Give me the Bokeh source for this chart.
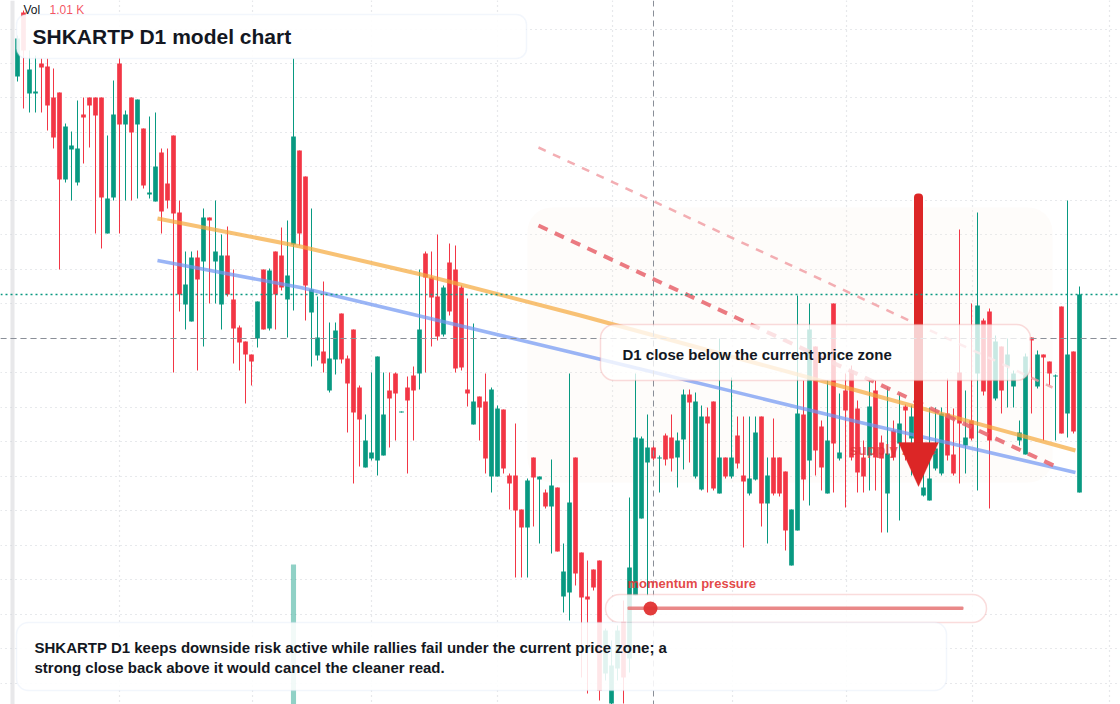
import numpy as np
from bokeh.plotting import figure
from bokeh.models import (Range1d, BoxAnnotation, PolyAnnotation, Label, Span,
                          ColumnDataSource)
from bokeh.embed import file_html
from bokeh.resources import INLINE

# ---------------- data (daily candles, price units) ----------------
opens = [9.24, 9.88, 9.07, 9.07, 9.37, 9.34, 9.03, 9.08, 8.21, 8.51,
         8.18, 8.86, 9.03, 9.03, 9.03, 7.67, 8.03, 9.37, 8.76, 9.03,
         8.76, 8.72, 8.06, 7.99, 8.48, 8.17, 8.65, 7.88, 6.96, 6.79,
         7.43, 7.39, 7.83, 7.39, 6.96, 7.45, 7.01, 6.73, 6.59, 6.46,
         6.62, 7.31, 6.72, 7.49, 7.45, 7.01, 7.56, 8.50, 8.24, 6.88,
         6.45, 6.49, 6.10, 6.41, 6.87, 6.42, 6.71, 6.13, 5.33, 5.42,
         5.40, 5.45, 6.10, 6.27, 5.88, 6.13, 6.25, 6.27, 7.47, 7.23,
         7.04, 6.66, 7.38, 7.31, 7.13, 6.11, 5.76, 6.04, 5.99, 5.24,
         5.24, 5.91, 5.25, 5.25, 4.91, 4.73, 5.43, 5.21, 5.08, 4.94,
         5.13, 4.04, 4.08, 5.43, 4.48, 4.04, 4.31, 4.40, 3.27, 2.97,
         3.32, 3.79, 3.42, 4.05, 4.82, 5.38, 5.53, 5.42, 5.65, 5.63,
         5.43, 5.61, 6.06, 5.24, 5.11, 5.84, 5.99, 5.07, 5.43, 5.24,
         5.65, 5.25, 5.07, 5.21, 5.84, 4.97, 5.43, 5.43, 5.29, 4.35,
         4.70, 5.86, 5.40, 6.54, 5.74, 5.07, 6.97, 5.42, 6.10, 6.30,
         5.92, 5.43, 5.45, 6.10, 5.58, 5.07, 5.70, 5.57, 5.94, 5.62,
         5.80, 5.05, 5.00, 5.32, 5.27, 5.87, 5.46, 6.28, 5.55, 5.80,
         6.27, 6.80, 6.89, 6.02, 6.54, 6.34, 6.14, 5.60, 5.46, 6.63,
         6.14, 6.46, 6.39, 6.24, 6.94, 5.87, 6.49, 5.08]
highs = [9.65, 9.90, 9.50, 9.45, 9.42, 9.42, 9.32, 9.08, 8.77, 8.69,
         9.00, 9.03, 9.03, 9.03, 9.03, 8.65, 9.20, 9.43, 8.90, 9.03,
         9.01, 8.72, 8.84, 8.88, 8.52, 8.52, 8.65, 8.00, 7.49, 7.49,
         7.50, 7.92, 7.83, 8.00, 7.66, 7.74, 7.31, 6.75, 6.59, 6.46,
         6.99, 7.31, 7.32, 7.49, 7.73, 7.80, 9.42, 8.50, 8.24, 7.92,
         7.04, 7.19, 6.78, 6.78, 6.87, 6.45, 6.71, 6.15, 5.86, 6.28,
         6.44, 6.28, 6.28, 6.28, 5.89, 6.24, 6.34, 7.31, 7.49, 7.49,
         7.66, 7.15, 7.57, 7.55, 7.15, 7.02, 6.77, 6.04, 6.27, 6.13,
         5.95, 5.91, 5.27, 5.77, 4.91, 5.22, 5.43, 5.24, 5.11, 5.41,
         5.13, 4.57, 6.27, 5.43, 4.48, 4.40, 4.31, 4.40, 3.72, 3.60,
         3.75, 4.00, 5.03, 6.27, 5.64, 5.86, 5.55, 5.45, 5.67, 5.86,
         5.68, 6.11, 6.11, 6.08, 5.95, 5.93, 5.99, 6.62, 5.43, 6.23,
         5.84, 5.84, 5.84, 5.84, 5.84, 5.43, 5.82, 5.43, 5.29, 4.91,
         7.05, 6.20, 6.97, 6.54, 5.80, 6.20, 6.97, 6.07, 6.27, 6.35,
         6.00, 5.60, 6.20, 6.20, 5.65, 6.13, 5.80, 6.07, 5.96, 5.95,
         5.90, 5.30, 5.93, 5.93, 5.93, 6.22, 5.92, 7.71, 6.10, 6.97,
         7.88, 6.82, 6.92, 6.65, 6.54, 6.62, 6.30, 5.80, 6.47, 6.63,
         6.50, 6.46, 6.39, 6.26, 6.94, 8.00, 6.49, 7.14]
lows = [9.19, 8.92, 8.88, 8.88, 8.88, 8.70, 8.52, 7.31, 8.18, 8.00,
        8.15, 8.37, 8.53, 7.67, 7.52, 7.67, 8.00, 7.67, 8.00, 8.00,
        8.02, 8.12, 8.02, 7.99, 7.67, 7.92, 6.28, 6.89, 6.71, 6.79,
        6.30, 6.54, 6.97, 6.97, 6.71, 7.04, 6.37, 6.30, 5.97, 6.15,
        6.53, 6.71, 6.70, 6.71, 7.10, 6.63, 6.90, 7.55, 6.80, 6.34,
        6.40, 6.28, 6.08, 6.26, 6.37, 5.68, 5.17, 5.34, 5.33, 5.40,
        5.25, 5.45, 5.53, 5.60, 5.88, 5.27, 5.60, 6.11, 6.28, 6.54,
        6.60, 6.64, 6.85, 6.28, 6.30, 5.94, 5.76, 5.60, 5.27, 5.08,
        5.24, 5.27, 4.91, 4.23, 4.23, 4.23, 4.74, 4.57, 4.92, 4.47,
        4.49, 3.88, 3.80, 4.15, 3.23, 3.07, 4.10, 3.00, 3.20, 2.96,
        3.20, 2.97, 3.28, 4.05, 4.82, 4.05, 5.40, 5.08, 5.35, 5.29,
        5.13, 5.31, 5.38, 5.22, 5.10, 5.08, 5.10, 5.07, 5.22, 5.22,
        5.32, 4.53, 5.05, 5.20, 4.74, 4.57, 5.05, 5.04, 4.50, 4.35,
        4.70, 5.00, 4.95, 5.25, 5.10, 5.07, 5.08, 5.40, 4.93, 5.40,
        5.08, 5.08, 5.10, 5.10, 4.68, 4.68, 5.40, 4.80, 5.40, 5.25,
        5.40, 5.04, 5.00, 5.30, 5.25, 5.40, 5.25, 5.17, 5.27, 5.60,
        5.10, 6.05, 4.92, 6.00, 5.87, 5.93, 5.93, 5.55, 5.46, 5.87,
        6.12, 5.60, 6.15, 5.60, 5.67, 5.63, 5.67, 5.08]
closes = [9.62, 9.50, 9.31, 9.09, 9.33, 8.95, 8.63, 8.21, 8.74, 8.55,
          8.52, 8.83, 8.95, 8.85, 8.03, 8.02, 8.86, 8.76, 8.86, 8.68,
          9.01, 8.15, 8.08, 8.34, 7.89, 8.00, 7.87, 7.06, 7.16, 7.43,
          7.21, 7.83, 7.80, 7.49, 7.45, 7.06, 6.72, 6.58, 6.46, 6.39,
          6.99, 6.71, 7.30, 7.06, 7.13, 7.25, 8.64, 7.67, 7.15, 7.11,
          6.63, 6.37, 6.42, 6.70, 6.41, 6.17, 5.88, 5.81, 5.60, 5.48,
          6.44, 5.86, 6.02, 6.07, 5.89, 6.00, 6.10, 6.71, 7.23, 7.03,
          6.64, 7.13, 6.89, 6.32, 6.33, 6.07, 5.99, 5.93, 5.42, 6.11,
          5.92, 5.32, 5.17, 4.90, 4.73, 5.20, 5.23, 5.24, 4.94, 5.15,
          4.49, 4.29, 4.98, 4.27, 4.03, 4.01, 4.13, 3.10, 3.70, 3.35,
          3.70, 3.23, 4.33, 5.63, 5.62, 5.53, 5.42, 5.43, 5.41, 5.42,
          5.60, 6.06, 5.98, 5.99, 5.84, 5.77, 5.12, 5.43, 5.24, 5.43,
          5.37, 5.19, 5.22, 5.68, 4.97, 5.25, 5.07, 5.07, 4.70, 4.91,
          5.87, 5.21, 6.71, 5.50, 5.33, 5.60, 5.57, 5.48, 5.90, 5.43,
          5.28, 5.24, 5.94, 5.43, 5.42, 5.47, 5.43, 5.77, 5.90, 5.84,
          5.55, 5.13, 5.22, 5.52, 5.87, 5.45, 5.27, 5.77, 5.63, 5.62,
          6.95, 6.09, 5.60, 6.59, 6.10, 6.46, 6.27, 5.68, 6.44, 6.60,
          6.46, 6.43, 6.27, 6.25, 5.67, 6.46, 5.69, 7.06]

# volume spike (only visible bar), K units
vol_index = [46]
vol_values = [5.97]

# drawn levels / trend lines (candle index, price)
current_price = 7.06
cross_x = 106.0
cross_y = 6.62
orange_x = [23.33, 47.17, 68.0, 93.83, 140.5, 176.33]
orange_y = [7.82, 7.54, 7.25, 6.85, 6.09, 5.50]
blue_x = [23.33, 47.17, 93.83, 140.5, 176.33]
blue_y = [7.40, 7.13, 6.46, 5.78, 5.28]
red_dash_x = [86.83, 172.67]
red_dash_y = [7.75, 5.35]
pink_dash_x = [86.83, 172.5]
pink_dash_y = [8.53, 6.13]

# grid positions
grid_x = [17.0, 39.17, 59.0, 80.0, 99.17, 119.17, 138.17, 159.17, 182.0]
grid_y = [9.71, 9.37, 9.03, 8.68, 8.34, 8.00, 7.66, 7.31, 6.97, 6.62,
          6.28, 5.93, 5.59, 5.24, 4.90, 4.55, 4.21, 3.86, 3.52, 3.17]

GREEN = "#089981"
RED = "#f23645"
FONT = "Liberation Sans"

# screen pixel -> data helpers (layout only)
def X(px):
    return (px - 17) / 6.0

def Y(py):
    return 10.0 - py / 100.0

p = figure(width=1120, height=704,
           x_range=Range1d(X(0), X(1120)), y_range=Range1d(Y(704), Y(0)),
           output_backend="svg", toolbar_location=None,
           x_axis_location=None, y_axis_location=None,
           min_border=0, outline_line_color=None,
           background_fill_color="white", border_fill_color="white")
p.xgrid.visible = False
p.ygrid.visible = False
p.extra_y_ranges = {"vol": Range1d(0, 30)}

# left strip
p.add_layout(BoxAnnotation(left=X(10), right=X(14), fill_color="#e8e8ea",
                           fill_alpha=1.0, line_color=None, level="underlay"))
# grid
for gx in grid_x:
    p.add_layout(Span(location=gx, dimension="height", line_color="#cfd2d8",
                      line_dash="1 4", line_width=1.2, level="underlay"))
for gy in grid_y:
    p.add_layout(Span(location=gy, dimension="width", line_color="#cfd2d8",
                      line_dash="1 4", line_width=1.2, level="underlay"))

# faint zone
p.add_layout(BoxAnnotation(left=X(527), right=X(1052), top=Y(207), bottom=Y(482),
                           fill_color="#fbeee6", fill_alpha=0.18, line_color=None,
                           border_radius=24, level="underlay"))

# volume spike
p.vbar(x=vol_index, top=vol_values, bottom=0, width=0.85, y_range_name="vol",
       fill_color=GREEN, fill_alpha=0.45, line_color=None)

# candles
o = np.array(opens); h = np.array(highs); l = np.array(lows); c = np.array(closes)
idx = np.arange(len(o))
colors = np.where(c >= o, GREEN, RED)
src = ColumnDataSource(dict(x=idx, h=h, l=l, top=np.maximum(o, c),
                            bottom=np.minimum(o, c), color=colors))
p.segment(x0="x", y0="h", x1="x", y1="l", line_color="color", line_width=1, source=src)
p.vbar(x="x", width=0.78, top="top", bottom="bottom", fill_color="color",
       line_color=None, source=src)

# trend lines
p.line(orange_x, orange_y, line_color="#f5a83a", line_width=4, line_alpha=0.7)
p.line(blue_x, blue_y, line_color="#6f95f2", line_width=3.5, line_alpha=0.7)
p.line(pink_dash_x, pink_dash_y, line_color="#f09aa0", line_width=2.5,
       line_alpha=0.8, line_dash="8 8")
p.line(red_dash_x, red_dash_y, line_color="#e8636b", line_width=4,
       line_alpha=0.85, line_dash="10 8")

# supply text (under arrow)
p.add_layout(Label(x=X(849), y=Y(449), text="supply zone", text_font=FONT,
                   text_font_size="15px", text_font_style="bold",
                   text_color="#e03131", text_alpha=0.7, text_baseline="middle"))

# arrow
p.add_layout(BoxAnnotation(left=X(913.5), right=X(922.5), top=Y(193), bottom=Y(446),
                           fill_color="#dc2626", fill_alpha=1.0, line_color=None,
                           border_radius=4))
p.add_layout(PolyAnnotation(xs=[X(898), X(938), X(918)], ys=[Y(442), Y(442), Y(486)],
                            fill_color="#dc2626", fill_alpha=1.0,
                            line_color="#dc2626", line_width=1))

# price + crosshair lines
p.add_layout(Span(location=current_price, dimension="width", line_color=GREEN,
                  line_dash="2 3", line_width=1.5))
p.add_layout(Span(location=cross_y, dimension="width", line_color="#8a8f98",
                  line_dash="6 4", line_width=1))
p.add_layout(Span(location=cross_x, dimension="height", line_color="#8a8f98",
                  line_dash="6 4", line_width=1))

# title box
p.add_layout(BoxAnnotation(left=X(16), right=X(526), top=Y(14), bottom=Y(58),
                           fill_color="white", fill_alpha=0.9, line_color="#d3e0f5",
                           line_width=1.5, border_radius=10))
p.add_layout(Label(x=X(32), y=Y(36), text="SHKARTP D1 model chart",
                   text_font=FONT, text_font_size="21px", text_font_style="bold",
                   text_color="#131722", text_baseline="middle"))

# Vol label
p.add_layout(Label(x=X(23), y=Y(9), text="Vol", text_font=FONT, text_font_size="12px",
                   text_color="#131722", text_baseline="middle"))
p.add_layout(Label(x=X(49), y=Y(9), text="1.01 K", text_font=FONT, text_font_size="12px",
                   text_color=RED, text_alpha=0.85, text_baseline="middle"))

# D1 label box
p.add_layout(BoxAnnotation(left=X(600), right=X(1030), top=Y(324), bottom=Y(380),
                           fill_color="white", fill_alpha=0.78, line_color="#ee8a8a",
                           line_width=1.5, border_radius=14))
p.add_layout(Label(x=X(622), y=Y(354), text="D1 close below the current price zone",
                   text_font=FONT, text_font_size="15px", text_font_style="bold",
                   text_color="#131722", text_baseline="middle"))

# momentum gauge
p.add_layout(Label(x=X(627), y=Y(583), text="momentum pressure", text_font=FONT,
                   text_font_size="13px", text_font_style="bold",
                   text_color="#e03131", text_alpha=0.9, text_baseline="middle"))
p.add_layout(BoxAnnotation(left=X(605), right=X(986), top=Y(594), bottom=Y(622),
                           fill_color="white", fill_alpha=0.85, line_color="#ee8a8a",
                           line_width=1.5, border_radius=14))
p.add_layout(BoxAnnotation(left=X(627), right=X(963), top=Y(606), bottom=Y(609.5),
                           fill_color="#e57373", fill_alpha=0.85, line_color=None,
                           border_radius=1))
p.add_layout(BoxAnnotation(left=X(643), right=X(657), top=Y(601), bottom=Y(615),
                           fill_color="#e03131", fill_alpha=0.95, line_color=None,
                           border_radius=7))

# bottom note box
p.add_layout(BoxAnnotation(left=X(16), right=X(946), top=Y(622), bottom=Y(690),
                           fill_color="white", fill_alpha=0.88, line_color="#d3e0f5",
                           line_width=1.5, border_radius=12))
p.add_layout(Label(x=X(34), y=Y(647),
                   text="SHKARTP D1 keeps downside risk active while rallies fail under the current price zone; a",
                   text_font=FONT, text_font_size="15px", text_font_style="bold",
                   text_color="#131722", text_baseline="middle"))
p.add_layout(Label(x=X(34), y=Y(667),
                   text="strong close back above it would cancel the cleaner read.",
                   text_font=FONT, text_font_size="15px", text_font_style="bold",
                   text_color="#131722", text_baseline="middle"))

open("out.html", "w").write(file_html(p, INLINE))
